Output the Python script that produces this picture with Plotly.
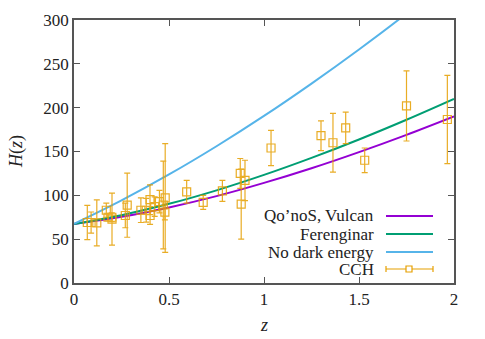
import plotly.graph_objects as go

# Cosmic chronometer data (CCH)
z_cch = [0.07, 0.09, 0.12, 0.17, 0.179, 0.199, 0.2, 0.27, 0.28, 0.352, 0.3802, 0.4, 0.4004,
         0.4247, 0.4497, 0.47, 0.4783, 0.48, 0.593, 0.68, 0.781, 0.875, 0.88, 0.9, 1.037,
         1.3, 1.363, 1.43, 1.53, 1.75, 1.965]
H_cch = [69, 69, 68.6, 83, 75, 75, 72.9, 77, 88.8, 83, 83, 95, 77,
         87.1, 92.8, 89, 80.9, 97, 104, 92, 105, 125, 90, 117, 154,
         168, 160, 177, 140, 202, 186.5]
H_err = [19.6, 12, 26.2, 8, 4, 5, 29.6, 14, 36.6, 14, 13.5, 17, 10.2,
         11.2, 12.9, 50, 9, 62, 13, 8, 12, 17, 40, 23, 20,
         17, 33.6, 18, 14, 40, 50.4]

# Model curves
z_model = [0, 0.25, 0.5, 0.75, 1.0, 1.25, 1.5, 1.75, 2.0]
H_qonos = [67.4, 75.5, 86.2, 99.1, 114.2, 130.9, 149.3, 169.0, 190.0]
H_feren = [67.4, 77.4, 90.3, 105.7, 123.3, 142.7, 163.7, 186.2, 210.0]
H_nodark = [67.4, 94.2, 123.8, 156.0, 190.6, 227.5, 266.4, 307.4, 352.0]

x_ticks = [0, 0.5, 1, 1.5, 2]
x_ticklabels = ["0", "0.5", "1", "1.5", "2"]
y_ticks = [0, 50, 100, 150, 200, 250, 300]

labels = ["Qo\u2019noS, Vulcan", "Ferenginar", "No dark energy", "CCH"]
colors = ["#9400D3", "#009E73", "#56B4E9", "#E69F00"]

FONT = "Liberation Serif, DejaVu Serif, Times New Roman, serif"

fig = go.Figure()
for H, c in zip([H_qonos, H_feren, H_nodark], colors[:3]):
    fig.add_trace(go.Scatter(x=z_model, y=H, mode="lines",
                             line=dict(color=c, width=2, shape="spline"),
                             showlegend=False))

fig.add_trace(go.Scatter(x=z_cch, y=H_cch, mode="markers",
                         marker=dict(symbol="square-open", size=8, color=colors[3],
                                     line=dict(width=1.2)),
                         error_y=dict(type="data", array=H_err, color=colors[3],
                                      thickness=1.2, width=3),
                         opacity=0.85, showlegend=False))

# Page offset (browser body margin) compensation
OFF = 8
# Plot area geometry in target pixels
L, R, T, B = 74, 454, 20, 283
W, Hh = 485 - OFF, 339 - OFF
l_m, t_m = L - OFF, T - OFF
r_m = W - (R - OFF)
b_m = Hh - (B - OFF)

def px(x):
    return (x - L) / (R - L)
def py(y):
    return (B - y) / (B - T)

rows = [216, 234, 252, 269]
annotations = []
shapes = []
for lab, c, r in zip(labels, colors, rows):
    annotations.append(dict(x=px(376), y=py(r), xref="paper", yref="paper",
                            text=lab, showarrow=False, xanchor="right", yanchor="middle",
                            font=dict(family=FONT, size=17, color="#222")))
    if lab != "CCH":
        shapes.append(dict(type="line", xref="paper", yref="paper",
                           x0=px(386), x1=px(433), y0=py(r), y1=py(r),
                           line=dict(color=c, width=2)))
    else:
        shapes.append(dict(type="line", xref="paper", yref="paper",
                           x0=px(386), x1=px(433), y0=py(r), y1=py(r),
                           line=dict(color=c, width=1.2)))
        for xx in (386, 433):
            shapes.append(dict(type="line", xref="paper", yref="paper",
                               x0=px(xx), x1=px(xx), y0=py(r - 3), y1=py(r + 3),
                               line=dict(color=c, width=1.2)))
        shapes.append(dict(type="rect", xref="paper", yref="paper",
                           x0=px(406), x1=px(412), y0=py(r - 3), y1=py(r + 3),
                           line=dict(color=c, width=1.2), fillcolor="white"))

# Axis titles
annotations.append(dict(x=px(264), y=py(325), xref="paper", yref="paper",
                        text="<i>z</i>", showarrow=False, xanchor="center", yanchor="middle",
                        font=dict(family=FONT, size=18, color="#222")))
annotations.append(dict(x=px(16), y=py(152), xref="paper", yref="paper",
                        text="<i>H</i>(<i>z</i>)", showarrow=False, xanchor="center",
                        yanchor="middle", textangle=-90,
                        font=dict(family=FONT, size=18, color="#222")))

axis_common = dict(showgrid=False, zeroline=False, showline=True, linecolor="#555",
                   linewidth=1.5, mirror="ticks", ticks="inside", ticklen=6,
                   tickcolor="#555", tickwidth=1, automargin=False,
                   tickfont=dict(family=FONT, size=17, color="#222"))

fig.update_layout(
    width=W, height=Hh,
    margin=dict(l=l_m, r=r_m, t=t_m, b=b_m),
    paper_bgcolor="white", plot_bgcolor="white",
    font=dict(family=FONT),
    xaxis=dict(range=[0, 2], tickvals=x_ticks, ticktext=x_ticklabels, **axis_common),
    yaxis=dict(range=[0, 300], tickvals=y_ticks, **axis_common),
    annotations=annotations, shapes=shapes,
)

fig.write_html("out.html")
